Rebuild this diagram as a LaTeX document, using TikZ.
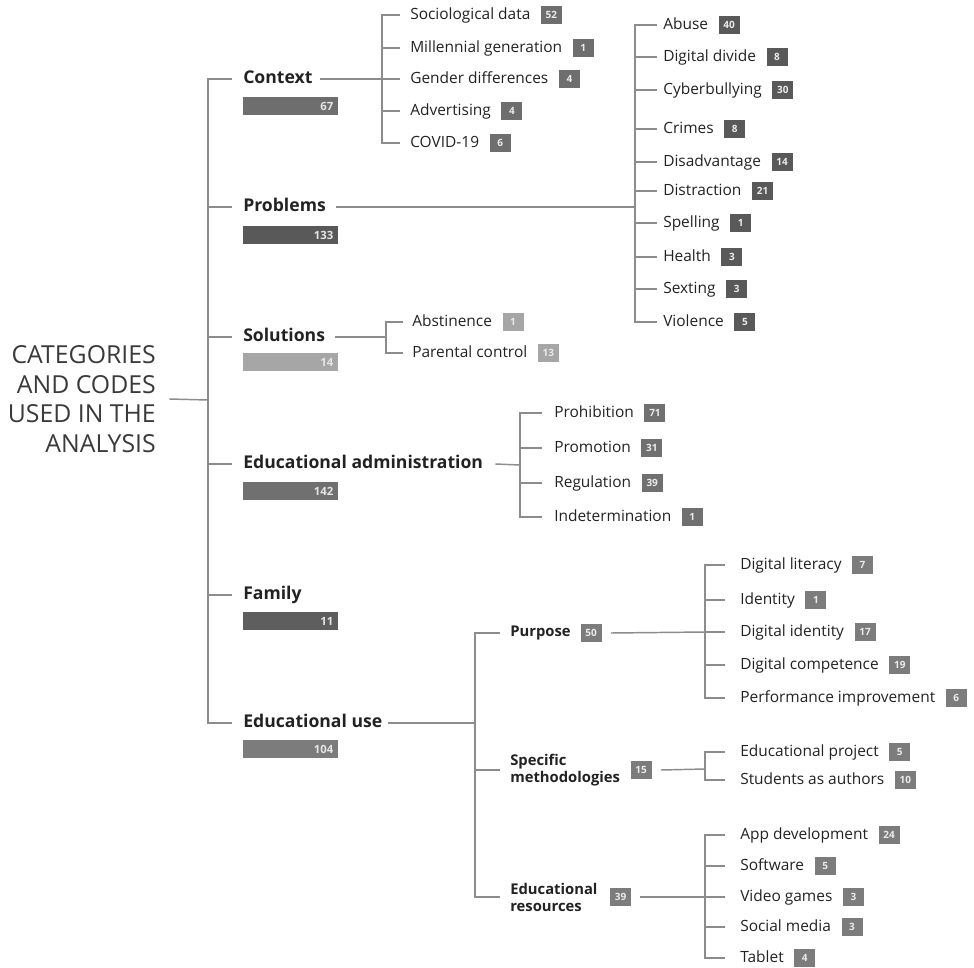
\documentclass[tikz,border=0pt]{standalone}
\usepackage{fontspec}
\setmainfont{Open Sans}
\usetikzlibrary{positioning}
\definecolor{txt}{HTML}{222222}
\definecolor{roottxt}{HTML}{3A3A3A}
\definecolor{linec}{HTML}{8C8C8C}
\definecolor{cctx}{HTML}{6E6E6E}
\definecolor{cprob}{HTML}{595959}
\definecolor{csol}{HTML}{A6A6A6}
\definecolor{cadm}{HTML}{707070}
\definecolor{cfam}{HTML}{5E5E5E}
\definecolor{cuse}{HTML}{7C7C7C}
\newcommand\leafitem[6]{%
  \node[leaf] (#1) at (#2,#3) {#4};
  \node[badge=#6, right=7.5pt of #1] (#1n) {#5};}
\begin{document}
\begin{tikzpicture}[x=0.75pt,y=-0.75pt,
  leaf/.style={anchor=west, inner sep=0pt, text=txt, font=\fontsize{11.6}{13}\selectfont, text height=0.88em, text depth=0.14em},
  badge/.style={fill=#1, text=white!92!black, font=\bfseries\fontsize{7.5}{7.5}\selectfont, minimum width=15.75pt, minimum height=13.5pt, inner sep=0pt},
  cat/.style={anchor=west, inner sep=0pt, text=txt, font=\bfseries\fontsize{13.2}{15}\selectfont, text height=0.86em, text depth=0.14em},
  sub/.style={anchor=west, inner sep=0pt, text=txt, align=left, font=\bfseries\fontsize{11.1}{12.8}\selectfont},
  catbox/.style={fill=#1, anchor=north west, minimum height=13.5pt, text width=63.75pt, inner xsep=3.75pt, inner ysep=0pt, align=right, text=white!90!black, font=\bfseries\fontsize{8.5}{8.5}\selectfont},
  conn/.style={draw=linec, line width=1.1pt}]
\useasboundingbox (0,0) rectangle (974,967);

% root
\node[anchor=east, align=right, inner sep=0pt, text=roottxt, font=\fontsize{18.6}{22.3}\selectfont] (root) at (156,399) {CATEGORIES\\AND CODES\\USED IN THE\\ANALYSIS};
\coordinate (tj) at (208,400);
\draw[conn] ([xshift=10pt]root.east) -- (tj);

% categories
\node[cat] (ctx) at (243,79) {Context};
\node[catbox=cctx] (ctxb) at (243,97) {67};
\node[cat] (prob) at (243,207) {Problems};
\node[catbox=cprob] (probb) at (243,226) {133};
\node[cat] (sol) at (243,337) {Solutions};
\node[catbox=csol] (solb) at (243,353) {14};
\node[cat] (adm) at (243,464) {Educational administration};
\node[catbox=cadm] (admb) at (243,482) {142};
\node[cat] (fam) at (243,595) {Family};
\node[catbox=cfam] (famb) at (243,612) {11};
\node[cat] (use) at (243,723) {Educational use};
\node[catbox=cuse] (useb) at (243,740) {104};
\foreach \n in {ctx,prob,sol,adm,fam,use}
  \draw[conn] (tj) |- ([xshift=-8pt]\n.west);

% context
\leafitem{c1}{410}{15}{Sociological data}{52}{cctx}
\leafitem{c2}{410}{48}{Millennial generation}{1}{cctx}
\leafitem{c3}{410}{79}{Gender differences}{4}{cctx}
\leafitem{c4}{410}{111}{Advertising}{4}{cctx}
\leafitem{c5}{410}{143}{COVID-19}{6}{cctx}
\coordinate (cj) at (382,79);
\draw[conn] ([xshift=5.5pt]ctx.east) -- (cj);
\foreach \n in {c1,c2,c3,c4,c5}
  \draw[conn] (cj) |- ([xshift=-7.5pt]\n.west);

% problems
\leafitem{p1}{663}{25}{Abuse}{40}{cprob}
\leafitem{p2}{663}{57}{Digital divide}{8}{cprob}
\leafitem{p3}{663}{90}{Cyberbullying}{30}{cprob}
\leafitem{p4}{663}{129}{Crimes}{8}{cprob}
\leafitem{p5}{663}{162}{Disadvantage}{14}{cprob}
\leafitem{p6}{663}{191}{Distraction}{21}{cprob}
\leafitem{p7}{663}{223}{Spelling}{1}{cprob}
\leafitem{p8}{663}{257}{Health}{3}{cprob}
\leafitem{p9}{663}{289}{Sexting}{3}{cprob}
\leafitem{p10}{663}{322}{Violence}{5}{cprob}
\coordinate (pj) at (635,207);
\draw[conn] ([xshift=7.5pt]prob.east) -- (pj);
\foreach \n in {p1,p2,p3,p4,p5,p6,p7,p8,p9,p10}
  \draw[conn] (pj) |- ([xshift=-4.5pt]\n.west);

% solutions
\leafitem{s1}{412}{322}{Abstinence}{1}{csol}
\leafitem{s2}{412}{353}{Parental control}{13}{csol}
\coordinate (sj) at (386,337);
\draw[conn] ([xshift=7.5pt]sol.east) -- (sj);
\foreach \n in {s1,s2}
  \draw[conn] (sj) |- ([xshift=-6.75pt]\n.west);

% educational administration
\leafitem{a1}{554}{413}{Prohibition}{71}{cadm}
\leafitem{a2}{554}{448}{Promotion}{31}{cadm}
\leafitem{a3}{554}{483}{Regulation}{39}{cadm}
\leafitem{a4}{554}{517}{Indetermination}{1}{cadm}
\coordinate (aj) at (520,465);
\draw[conn] ([xshift=9pt]adm.east) -- (aj);
\foreach \n in {a1,a2,a3,a4}
  \draw[conn] (aj) |- ([xshift=-9pt]\n.west);

% educational use
\node[sub] (pur) at (510,633) {Purpose};
\node[badge=cuse, right=7pt of pur] (purn) {50};
\node[sub] (met) at (510,770) {Specific\\methodologies};
\node[badge=cuse, right=7.5pt of met] (metn) {15};
\node[sub] (res) at (510,897) {Educational\\resources};
\node[badge=cuse, right=9pt of res] (resn) {39};
\coordinate (uj) at (475,723);
\draw[conn] ([xshift=4pt]use.east) -- (uj);
\foreach \n in {pur,met,res}
  \draw[conn] (uj) |- ([xshift=-7.5pt]\n.west);

% purpose
\leafitem{u1}{740}{565}{Digital literacy}{7}{cuse}
\leafitem{u2}{740}{600}{Identity}{1}{cuse}
\leafitem{u3}{740}{632}{Digital identity}{17}{cuse}
\leafitem{u4}{740}{665}{Digital competence}{19}{cuse}
\leafitem{u5}{740}{698}{Performance improvement}{6}{cuse}
\coordinate (uj1) at (705,632);
\draw[conn] ([xshift=6.75pt]purn.east) -- (uj1);
\foreach \n in {u1,u2,u3,u4,u5}
  \draw[conn] (uj1) |- ([xshift=-11.25pt]\n.west);

% specific methodologies
\leafitem{m1}{740}{752}{Educational project}{5}{cuse}
\leafitem{m2}{740}{780}{Students as authors}{10}{cuse}
\coordinate (uj2) at (705,769);
\draw[conn] ([xshift=6.75pt]metn.east) -- (uj2);
\foreach \n in {m1,m2}
  \draw[conn] (uj2) |- ([xshift=-11.25pt]\n.west);

% educational resources
\leafitem{r1}{740}{835}{App development}{24}{cuse}
\leafitem{r2}{740}{866}{Software}{5}{cuse}
\leafitem{r3}{740}{897}{Video games}{3}{cuse}
\leafitem{r4}{740}{927}{Social media}{3}{cuse}
\leafitem{r5}{740}{958}{Tablet}{4}{cuse}
\coordinate (uj3) at (705,897);
\draw[conn] ([xshift=6.75pt]resn.east) -- (uj3);
\foreach \n in {r1,r2,r3,r4,r5}
  \draw[conn] (uj3) |- ([xshift=-11.25pt]\n.west);
\end{tikzpicture}
\end{document}
